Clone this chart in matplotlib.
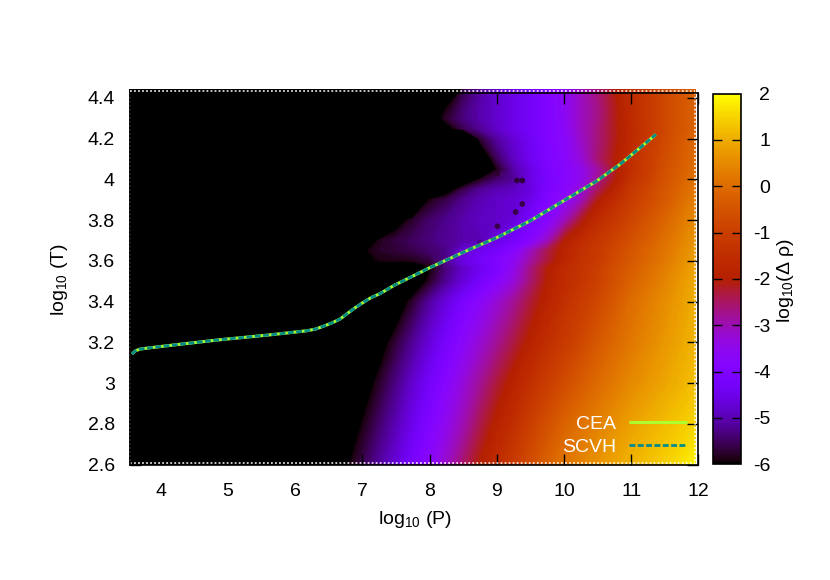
import numpy as np
import matplotlib
matplotlib.use("Agg")
import matplotlib.pyplot as plt
from matplotlib.cm import ScalarMappable
from matplotlib.colors import Normalize

plt.rcParams['font.family'] = ['Liberation Sans', 'DejaVu Sans']
plt.rcParams['mathtext.fontset'] = 'custom'
plt.rcParams['mathtext.rm'] = 'Liberation Sans'
plt.rcParams['mathtext.it'] = 'Liberation Sans'
plt.rcParams['lines.scale_dashes'] = False

log_p_nodes = [3.54, 6, 6.5, 6.75, 7, 7.25, 7.5, 7.75, 8, 8.25, 8.5, 8.75, 9, 9.25, 9.5, 9.75, 10, 10.25, 10.5, 11, 11.5, 11.95]
log_t_nodes = [2.6, 2.8, 3.0, 3.2, 3.4, 3.5, 3.565, 3.6, 3.65, 3.7, 3.8, 3.9, 3.95, 4.0, 4.05, 4.1, 4.2, 4.25, 4.3, 4.35, 4.44]
log_drho = [
    [-9, -9, -6.5, -6.05, -5.6, -5.15, -4.7, -4.2, -3.7, -3.15, -2.55, -2, -1.55, -1.1, -.65, -.2, .15, .4, .65, 1.1, 1.45, 1.85],
    [-9, -9, -8, -6.4, -5.93, -5.45, -5, -4.5, -4, -3.5, -3, -2.4, -1.9, -1.5, -1, -.6, -.2, .1, .35, .85, 1.2, 1.5],
    [-9, -9, -9, -7.5, -6.3, -5.8, -5.3, -4.8, -4.3, -3.8, -3.3, -2.8, -2.3, -1.85, -1.45, -1.05, -.7, -.35, -.05, .5, .9, 1.25],
    [-9, -9, -9, -9, -7.5, -6.25, -5.7, -5.2, -4.7, -4.2, -3.7, -3.25, -2.8, -2.35, -1.9, -1.5, -1.15, -.8, -.4, .2, .7, 1.1],
    [-9, -9, -9, -9, -9, -7.5, -6.4, -5.75, -5.15, -4.65, -4.15, -3.7, -3.25, -2.8, -2.3, -1.85, -1.45, -1.1, -.8, 0, .55, 1.0],
    [-9, -9, -9, -9, -9, -9, -7.5, -6.5, -5.8, -5.2, -4.7, -4.25, -3.8, -3.3, -2.6, -2, -1.6, -1.3, -.95, -.2, .4, .95],
    [-9, -9, -9, -9, -9, -8, -7.5, -7, -6.0, -5.35, -4.85, -4.45, -4.1, -3.5, -2.7, -2.05, -1.6, -1.35, -1, -.3, .3, .88],
    [-9, -9, -9, -9, -6.1, -5.92, -5.9, -5.88, -5.7, -5.2, -4.6, -4.3, -4.0, -3.6, -2.9, -2.3, -1.8, -1.4, -1.1, -.4, .2, .8],
    [-9, -9, -9, -9, -6.02, -5.8, -5.7, -5.6, -5.45, -5.3, -4.75, -4.45, -4.2, -3.85, -3.1, -2.4, -1.85, -1.45, -1.15, -.45, .15, .75],
    [-9, -9, -9, -9, -8, -5.85, -5.65, -5.5, -5.35, -5.2, -5.05, -5.0, -4.6, -4.25, -3.85, -3.1, -2.05, -1.6, -1.25, -.6, .05, .65],
    [-9, -9, -9, -9, -9, -9, -6.25, -5.75, -5.45, -5.25, -5.05, -4.9, -4.85, -4.7, -4.2, -3.85, -3.1, -2.2, -1.6, -.85, -.15, .5],
    [-9, -9, -9, -9, -9, -9, -9, -7.5, -5.9, -5.6, -5.25, -5.0, -4.85, -4.75, -4.55, -4, -3.7, -3.1, -2.1, -1.1, -.4, .3],
    [-9, -9, -9, -9, -9, -9, -9, -9, -8, -6.3, -5.6, -5.2, -5.0, -4.9, -4.65, -4.1, -3.8, -3.3, -2.5, -1.2, -.45, .2],
    [-9, -9, -9, -9, -9, -9, -9, -9, -9, -9, -6.6, -5.85, -5.45, -5.2, -4.6, -4.2, -3.9, -3.5, -2.8, -1.4, -.55, .1],
    [-9, -9, -9, -9, -9, -9, -9, -9, -9, -9, -9, -8, -5.9, -5.1, -4.6, -4.1, -3.85, -3.5, -2.9, -1.5, -.6, .02],
    [-9, -9, -9, -9, -9, -9, -9, -9, -9, -9, -9, -6.7, -5.55, -4.9, -4.45, -4.05, -3.8, -3.3, -2.6, -1.5, -.65, -.03],
    [-9, -9, -9, -9, -9, -9, -9, -9, -9, -9, -8, -5.75, -5.15, -4.75, -4.4, -4, -3.75, -3.15, -2.65, -1.65, -.75, -.12],
    [-9, -9, -9, -9, -9, -9, -9, -9, -9, -6.2, -5.6, -5.2, -4.85, -4.55, -4.3, -4, -3.7, -3.1, -2.65, -1.65, -.8, -.2],
    [-9, -9, -9, -9, -9, -9, -9, -9, -6.4, -5.75, -5.35, -5.05, -4.8, -4.55, -4.3, -4, -3.65, -3.1, -2.7, -1.6, -.8, -.2],
    [-9, -9, -9, -9, -9, -9, -9, -9, -8, -5.95, -5.4, -5.05, -4.8, -4.55, -4.3, -4, -3.65, -3.1, -2.7, -1.6, -.8, -.2],
    [-9, -9, -9, -9, -9, -9, -9, -9, -9, -8, -5.65, -5.15, -4.8, -4.55, -4.3, -3.98, -3.6, -3.1, -2.65, -1.55, -.78, -.2],
]

spot_p = [9.01, 9.30, 9.38, 9.38, 9.28, 9.01, 8.75]
spot_t = [4.03, 3.995, 3.995, 3.88, 3.84, 3.77, 3.69]
spot_v = [-5.75, -5.7, -5.7, -5.6, -5.6, -5.6, -5.3]

curve_p = [3.574, 3.62, 3.689, 3.85, 4.185, 4.879, 5.624, 6.17, 6.3, 6.41, 6.55, 6.665, 6.814, 6.9, 7.012, 7.13, 7.26, 7.484, 8.004, 8.6, 8.997, 9.493, 9.988, 10.485, 10.832, 11.13, 11.368]
curve_t = [3.143, 3.158, 3.167, 3.174, 3.187, 3.213, 3.237, 3.257, 3.265, 3.278, 3.296, 3.314, 3.351, 3.372, 3.396, 3.42, 3.439, 3.482, 3.567, 3.657, 3.714, 3.796, 3.894, 3.992, 4.074, 4.155, 4.221]

x_ticks = [4, 5, 6, 7, 8, 9, 10, 11, 12]
y_ticks = [2.6, 2.8, 3.0, 3.2, 3.4, 3.6, 3.8, 4.0, 4.2, 4.4]
y_labels = ['2.6', '2.8', '3', '3.2', '3.4', '3.6', '3.8', '4', '4.2', '4.4']
cb_ticks = [-6, -5, -4, -3, -2, -1, 0, 1, 2]
cb_labels = ['-6', '-5', '-4', '-3', '-2', '-1', '0', '1', '2']

W, H = 830, 580
FS = 14
fig = plt.figure(figsize=(W / 100, H / 100), dpi=100)


def box(l, r, t, b):
    return [l / W, 1 - b / H, (r - l) / W, (b - t) / H]


ax = fig.add_axes(box(130, 698.4, 92.8, 464.6))
ax.set_xlim(3.543, 12)
ax.set_ylim(2.6, 4.4255)

levels = np.arange(-6, 2.001, 0.05)
cf = ax.contourf(log_p_nodes, log_t_nodes, log_drho, levels=levels, cmap='gnuplot',
                 vmin=-6, vmax=2, extend='both', antialiased=False, zorder=1)
cf.set_clip_on(False)
ax.scatter(spot_p, spot_t, c=spot_v, cmap='gnuplot', vmin=-6, vmax=2, s=20, marker='h',
           linewidths=0, zorder=1.5)

# white dotted edge of the map
dots = (0, (1.3, 1.6))
edge = dict(color='white', lw=1.1, ls=dots, clip_on=False, zorder=4)
ax.plot([3.543, 11.95], [4.436, 4.436], **edge)
ax.plot([3.543, 11.95], [2.608, 2.608], **edge)
ax.plot([3.55, 3.55], [2.6, 4.436], **edge)
ax.plot([11.95, 11.95], [2.6, 4.436], **edge)

ax.plot(curve_p, curve_t, color='#adff2f', lw=2.2, solid_capstyle='butt', label='CEA', zorder=3)
ax.plot(curve_p, curve_t, color='#008b8b', lw=2.0, ls=(0, (4.2, 1.8)), dash_capstyle='butt',
        label='SCVH', zorder=3.2)

ax.set_xticks(x_ticks)
ax.set_xticklabels([str(v) for v in x_ticks])
ax.set_yticks(y_ticks)
ax.set_yticklabels(y_labels)
ax.tick_params(axis='both', direction='in', length=8, width=1.0, top=True, right=True,
               labelsize=FS, color='black', zorder=5)
ax.tick_params(axis='x', pad=13)
ax.tick_params(axis='y', pad=11)
for s in ax.spines.values():
    s.set_linewidth(1.2)
    s.set_zorder(6)

ax.legend(loc='lower right', frameon=False, labelcolor='white', fontsize=FS,
          handlelength=3.0, handletextpad=0.65, labelspacing=0.28,
          markerfirst=False, bbox_to_anchor=(687 / W, 1 - 456 / H),
          bbox_transform=fig.transFigure, borderaxespad=0, borderpad=0)

cax = fig.add_axes(box(712.8, 741, 93.5, 464.3))
cb = fig.colorbar(ScalarMappable(Normalize(-6, 2), cmap=plt.get_cmap('gnuplot', 160)), cax=cax)
cb.set_ticks(cb_ticks)
cb.set_ticklabels(cb_labels)
cb.minorticks_off()
cax.tick_params(axis='y', which='major', direction='inout', length=0, labelsize=FS, pad=21)
for lab in cax.get_yticklabels():
    lab.set_ha('right')
cb.outline.set_linewidth(1.2)
for v in cb_ticks:
    cax.plot([0, 0.32], [v, v], color='black', lw=1.0, transform=cax.get_yaxis_transform(), solid_capstyle='butt')
    cax.plot([0.68, 1], [v, v], color='black', lw=1.0, transform=cax.get_yaxis_transform(), solid_capstyle='butt')

fig.text(415 / W, 1 - 520 / H, r'$\mathrm{log}_{10}$ (P)', ha='center', va='center', fontsize=FS)
fig.text(60 / W, 1 - 280 / H, r'$\mathrm{log}_{10}$ (T)', ha='center', va='center', rotation=90, fontsize=FS)
fig.text(785 / W, 1 - 280 / H, r'$\mathrm{log}_{10}$(Δ ρ)', ha='center', va='center', rotation=90, fontsize=FS)

fig.savefig('out.png', dpi=100)
